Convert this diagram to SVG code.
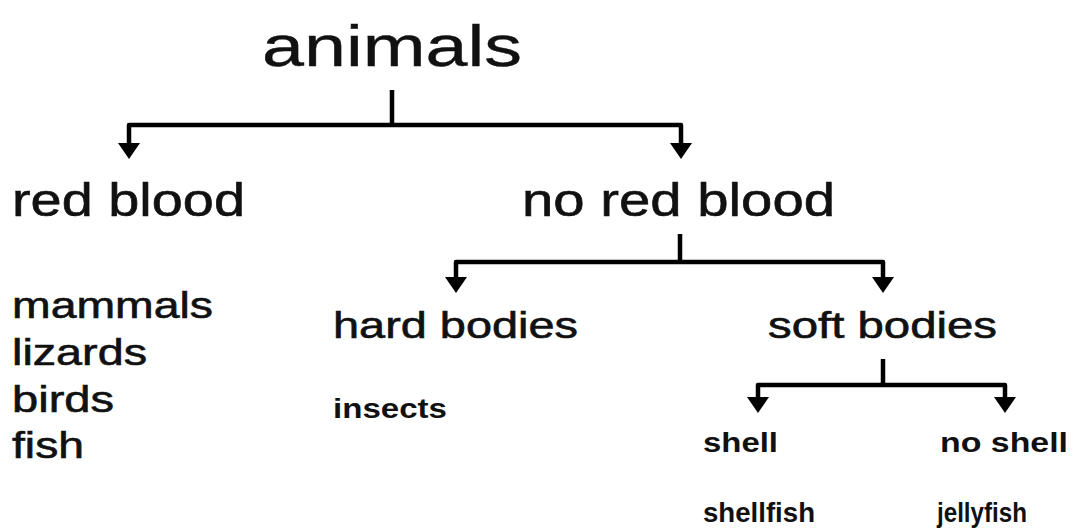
<svg xmlns="http://www.w3.org/2000/svg" width="1073" height="530" viewBox="0 0 1073 530">
<defs>
<style>
text{font-family:"Liberation Sans",Arial,sans-serif;fill:#111;}
.t1{font-size:58px;stroke:#111;stroke-width:0.4;}
.t2{font-size:47px;stroke:#111;stroke-width:0.6;}
.t3{font-size:36px;stroke:#111;stroke-width:0.6;}
.t4{font-size:28px;font-weight:bold;}
.conn{fill:none;stroke:#000;stroke-width:4.5;stroke-linejoin:round;}
</style>
<marker id="ah" markerUnits="userSpaceOnUse" viewBox="0 0 16 22" refX="0" refY="11" markerWidth="16" markerHeight="22" orient="auto">
<path d="M0,0 L16,11 L0,22 Z" fill="#000"/>
</marker>
</defs>
<rect width="1073" height="530" fill="#fff"/>
<g id="connectors">
<path class="conn" d="M392,90 V125"/>
<path class="conn" d="M392,125 H129 V143" marker-end="url(#ah)"/>
<path class="conn" d="M392,125 H681 V143" marker-end="url(#ah)"/>
<path class="conn" d="M680,234 V262"/>
<path class="conn" d="M680,262 H456 V277" marker-end="url(#ah)"/>
<path class="conn" d="M680,262 H883 V277" marker-end="url(#ah)"/>
<path class="conn" d="M883,359 V385"/>
<path class="conn" d="M883,385 H758 V397" marker-end="url(#ah)"/>
<path class="conn" d="M883,385 H1005 V397" marker-end="url(#ah)"/>
</g>
<g id="animals"><text class="t1" x="262" y="66" textLength="260" lengthAdjust="spacingAndGlyphs">animals</text></g>
<g id="red-blood"><text class="t2" x="12" y="216" textLength="233" lengthAdjust="spacingAndGlyphs">red blood</text></g>
<g id="no-red-blood"><text class="t2" x="522" y="216" textLength="313" lengthAdjust="spacingAndGlyphs">no red blood</text></g>
<g id="red-blood-list">
<text class="t3" x="12" y="318" textLength="201" lengthAdjust="spacingAndGlyphs">mammals</text>
<text class="t3" x="12" y="365" textLength="135" lengthAdjust="spacingAndGlyphs">lizards</text>
<text class="t3" x="12" y="412" textLength="102" lengthAdjust="spacingAndGlyphs">birds</text>
<text class="t3" x="12" y="458" textLength="72" lengthAdjust="spacingAndGlyphs">fish</text>
</g>
<g id="hard-bodies"><text class="t3" x="333" y="338" textLength="245" lengthAdjust="spacingAndGlyphs">hard bodies</text></g>
<g id="insects"><text class="t4" x="333" y="418" textLength="114" lengthAdjust="spacingAndGlyphs">insects</text></g>
<g id="soft-bodies"><text class="t3" x="768" y="338" textLength="229" lengthAdjust="spacingAndGlyphs">soft bodies</text></g>
<g id="shell"><text class="t4" x="703" y="452" textLength="75" lengthAdjust="spacingAndGlyphs">shell</text></g>
<g id="no-shell"><text class="t4" x="940" y="452" textLength="128" lengthAdjust="spacingAndGlyphs">no shell</text></g>
<g id="shellfish"><text class="t4" x="703" y="522" textLength="112" lengthAdjust="spacingAndGlyphs">shellfish</text></g>
<g id="jellyfish"><text class="t4" x="937" y="522" textLength="90" lengthAdjust="spacingAndGlyphs">jellyfish</text></g>
</svg>
